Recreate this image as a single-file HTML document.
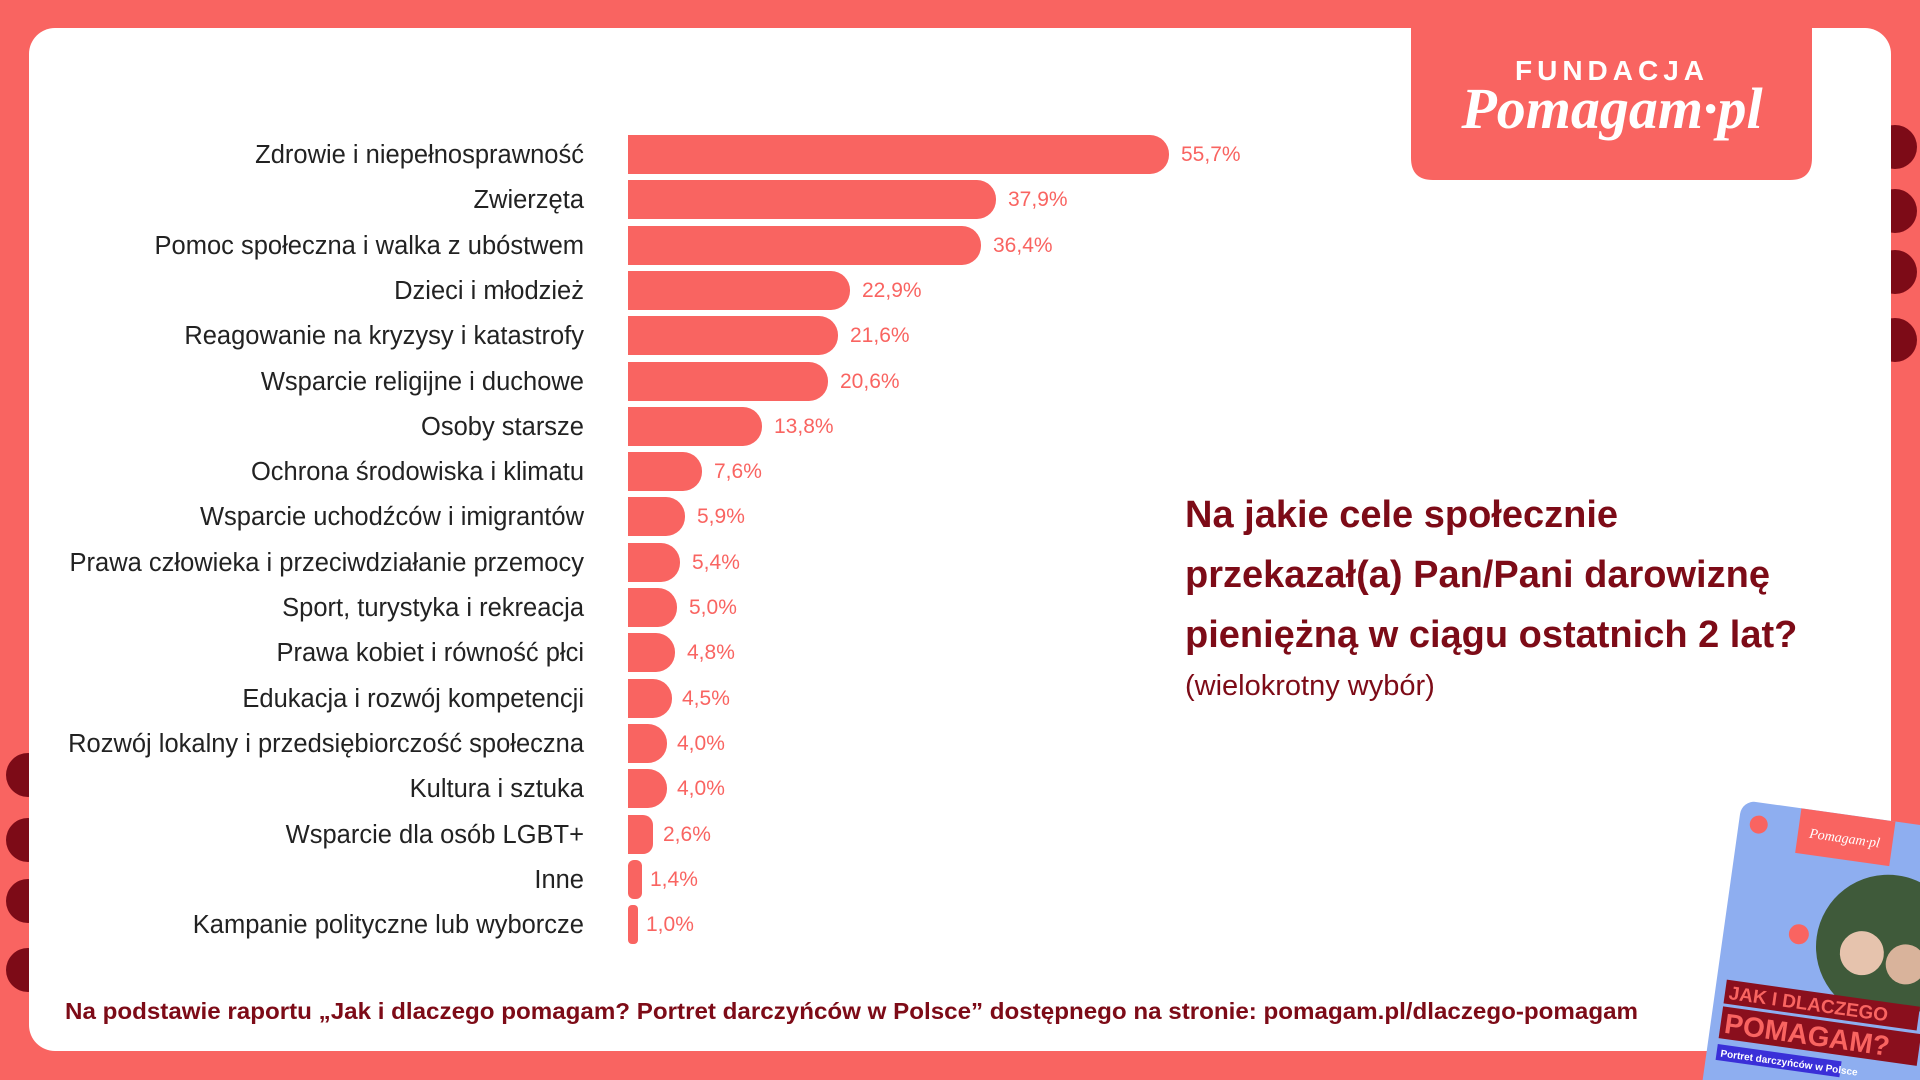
<!DOCTYPE html>
<html><head><meta charset="utf-8"><style>
html,body{margin:0;padding:0;background:#f96461;width:1920px;height:1080px;overflow:hidden;}
svg{display:block}
</style></head><body>
<svg width="1920" height="1080" viewBox="0 0 1920 1080" xmlns="http://www.w3.org/2000/svg">
<rect width="1920" height="1080" fill="#f96461"/>
<g fill="#7d0b17">
<circle cx="1895" cy="147" r="22"/><circle cx="1895" cy="211" r="22"/><circle cx="1895" cy="272" r="22"/><circle cx="1895" cy="340" r="22"/>
<circle cx="28" cy="775" r="22"/><circle cx="28" cy="840" r="22"/><circle cx="28" cy="901" r="22"/><circle cx="28" cy="970" r="22"/>
</g>
<rect x="29" y="28" width="1862" height="1023" rx="26" fill="#ffffff"/>
<path d="M1411 28 H1812 V158 Q1812 180 1790 180 H1433 Q1411 180 1411 158 Z" fill="#f96461"/>
<text x="1612" y="80" text-anchor="middle" font-family="Liberation Sans, sans-serif" font-weight="bold" font-size="28" letter-spacing="5" fill="#fff">FUNDACJA</text>
<text x="1612" y="128" text-anchor="middle" font-family="Liberation Serif, serif" font-style="italic" font-weight="bold" font-size="58" fill="#fff">Pomagam·pl</text>
<g font-family="Liberation Sans, DejaVu Sans, sans-serif">
<g font-size="25.5" fill="#222" text-anchor="end">
<text x="584" y="163">Zdrowie i niepełnosprawność</text>
<text x="584" y="208">Zwierzęta</text>
<text x="584" y="254">Pomoc społeczna i walka z ubóstwem</text>
<text x="584" y="299">Dzieci i młodzież</text>
<text x="584" y="344">Reagowanie na kryzysy i katastrofy</text>
<text x="584" y="390">Wsparcie religijne i duchowe</text>
<text x="584" y="435">Osoby starsze</text>
<text x="584" y="480">Ochrona środowiska i klimatu</text>
<text x="584" y="525">Wsparcie uchodźców i imigrantów</text>
<text x="584" y="571">Prawa człowieka i przeciwdziałanie przemocy</text>
<text x="584" y="616">Sport, turystyka i rekreacja</text>
<text x="584" y="661">Prawa kobiet i równość płci</text>
<text x="584" y="707">Edukacja i rozwój kompetencji</text>
<text x="584" y="752">Rozwój lokalny i przedsiębiorczość społeczna</text>
<text x="584" y="797">Kultura i sztuka</text>
<text x="584" y="843">Wsparcie dla osób LGBT+</text>
<text x="584" y="888">Inne</text>
<text x="584" y="933">Kampanie polityczne lub wyborcze</text>
</g>
<g fill="#f96461">
<rect x="628" y="135" width="541" height="39" rx="19"/><rect x="628" y="135" width="30" height="39"/>
<rect x="628" y="180" width="368" height="39" rx="19"/><rect x="628" y="180" width="30" height="39"/>
<rect x="628" y="226" width="353" height="39" rx="19"/><rect x="628" y="226" width="30" height="39"/>
<rect x="628" y="271" width="222" height="39" rx="19"/><rect x="628" y="271" width="30" height="39"/>
<rect x="628" y="316" width="210" height="39" rx="19"/><rect x="628" y="316" width="30" height="39"/>
<rect x="628" y="362" width="200" height="39" rx="19"/><rect x="628" y="362" width="30" height="39"/>
<rect x="628" y="407" width="134" height="39" rx="19"/><rect x="628" y="407" width="30" height="39"/>
<rect x="628" y="452" width="74" height="39" rx="19"/><rect x="628" y="452" width="30" height="39"/>
<rect x="628" y="497" width="57" height="39" rx="19"/><rect x="628" y="497" width="30" height="39"/>
<rect x="628" y="543" width="52" height="39" rx="19"/><rect x="628" y="543" width="26" height="39"/>
<rect x="628" y="588" width="49" height="39" rx="19"/><rect x="628" y="588" width="24" height="39"/>
<rect x="628" y="633" width="47" height="39" rx="19"/><rect x="628" y="633" width="23" height="39"/>
<rect x="628" y="679" width="44" height="39" rx="19"/><rect x="628" y="679" width="22" height="39"/>
<rect x="628" y="724" width="39" height="39" rx="19"/><rect x="628" y="724" width="19" height="39"/>
<rect x="628" y="769" width="39" height="39" rx="19"/><rect x="628" y="769" width="19" height="39"/>
<rect x="628" y="815" width="25" height="39" rx="10"/><rect x="628" y="815" width="12" height="39"/>
<rect x="628" y="860" width="14" height="39" rx="6"/>
<rect x="628" y="905" width="10" height="39" rx="4"/>
</g>
<g font-size="21" fill="#f96461">
<text x="1181" y="161">55,7%</text>
<text x="1008" y="206">37,9%</text>
<text x="993" y="252">36,4%</text>
<text x="862" y="297">22,9%</text>
<text x="850" y="342">21,6%</text>
<text x="840" y="388">20,6%</text>
<text x="774" y="433">13,8%</text>
<text x="714" y="478">7,6%</text>
<text x="697" y="523">5,9%</text>
<text x="692" y="569">5,4%</text>
<text x="689" y="614">5,0%</text>
<text x="687" y="659">4,8%</text>
<text x="682" y="705">4,5%</text>
<text x="677" y="750">4,0%</text>
<text x="677" y="795">4,0%</text>
<text x="663" y="841">2,6%</text>
<text x="650" y="886">1,4%</text>
<text x="646" y="931">1,0%</text>
</g>
<g fill="#7d0b17">
<text x="1185" y="527" font-size="38" font-weight="bold">Na jakie cele społecznie</text>
<text x="1185" y="587" font-size="38" font-weight="bold">przekazał(a) Pan/Pani darowiznę</text>
<text x="1185" y="647" font-size="38" font-weight="bold">pieniężną w ciągu ostatnich 2 lat?</text>
<text x="1185" y="695" font-size="29">(wielokrotny wybór)</text>
<text x="65" y="1019" font-size="23" font-weight="bold" textLength="1573" lengthAdjust="spacingAndGlyphs">Na podstawie raportu „Jak i dlaczego pomagam? Portret darczyńców w Polsce” dostępnego na stronie: pomagam.pl/dlaczego-pomagam</text>
</g>
</g>
<g transform="translate(1742,800) rotate(8)">
<rect x="0" y="0" width="260" height="330" rx="14" fill="#8eaef0"/>
<rect x="60" y="0" width="95" height="45" fill="#f96461"/>
<text x="107" y="28" text-anchor="middle" font-family="Liberation Serif, serif" font-style="italic" font-size="14" fill="#fff">Pomagam·pl</text>
<circle cx="165" cy="125" r="72" fill="#3f5a3a"/>
<circle cx="140" cy="135" r="22" fill="#e6c3ad"/>
<circle cx="185" cy="140" r="20" fill="#d9b39b"/>
<circle cx="20" cy="22" r="9" fill="#f96461"/>
<circle cx="75" cy="125" r="10" fill="#f96461"/>
<circle cx="200" cy="70" r="10" fill="#f96461"/>
<rect x="10" y="180" width="195" height="24" fill="#8a0f1d"/>
<text x="14" y="199" font-family="Liberation Sans, sans-serif" font-weight="bold" font-size="19" fill="#f96461">JAK I DLACZEGO</text>
<rect x="10" y="207" width="200" height="32" fill="#8a0f1d"/>
<text x="14" y="233" font-family="Liberation Sans, sans-serif" font-weight="bold" font-size="28" fill="#f96461">POMAGAM?</text>
<rect x="10" y="245" width="125" height="16" fill="#3a2fd8"/>
<text x="14" y="257" font-family="Liberation Sans, sans-serif" font-weight="bold" font-size="10" fill="#fff">Portret darczyńców w Polsce</text>
<circle cx="28" cy="300" r="11" fill="#f96461"/>
</g>
</svg>
</body></html>
